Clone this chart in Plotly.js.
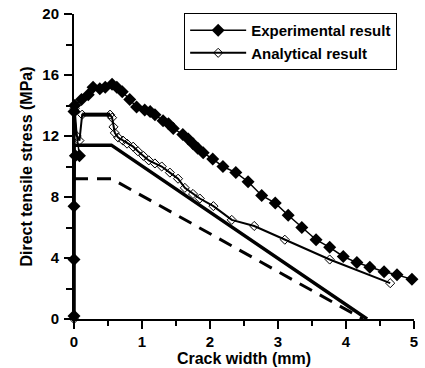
<!DOCTYPE html>
<html><head><meta charset="utf-8">
<script src="https://cdn.plot.ly/plotly-3.0.1.min.js"></script>
<style>body{margin:0;background:#fff}#c{width:425px;height:368px}</style>
</head><body><div id="c"></div>
<script>
const expX = [0, 0, 0, 0.02, 0.08, 0.0, 0.01, 0.11, 0.21, 0.28, 0.38, 0.46, 0.56, 0.63, 0.71, 0.82, 0.92, 1.04, 1.12, 1.19, 1.31, 1.39, 1.46, 1.6, 1.68, 1.75, 1.82, 1.9, 2.04, 2.19, 2.38, 2.56, 2.76, 2.96, 3.15, 3.35, 3.56, 3.76, 3.96, 4.16, 4.35, 4.56, 4.75, 4.97];
const expY = [0.2, 3.9, 7.4, 10.7, 10.7, 13.6, 14.0, 14.4, 14.7, 15.2, 15.1, 15.2, 15.4, 15.2, 14.9, 14.4, 13.9, 13.7, 13.6, 13.4, 13.0, 12.8, 12.5, 12.1, 11.8, 11.5, 11.2, 10.9, 10.5, 10.0, 9.6, 9.0, 8.1, 7.6, 6.8, 6.0, 5.2, 4.7, 4.1, 3.7, 3.4, 3.1, 2.9, 2.6];
const anaX = [0, 0.01, 0.04, 0.08, 0.12, 0.53, 0.56, 0.58, 0.6, 0.65, 0.72, 0.78, 0.87, 0.94, 1.02, 1.1, 1.19, 1.29, 1.41, 1.53, 1.63, 1.75, 1.85, 2.05, 2.32, 2.65, 3.1, 3.76, 4.65];
const anaY = [0, 13.8, 12.0, 11.7, 13.4, 13.4, 13.2, 12.6, 12.2, 11.9, 11.7, 11.5, 11.3, 11.0, 10.7, 10.4, 10.2, 10.0, 9.6, 9.2, 8.6, 8.2, 7.9, 7.4, 6.5, 6.1, 5.2, 3.9, 2.35];
const plateauX = [0.12, 0.53];
const plateauY = [13.4, 13.4];
const model1X = [0, 0, 0.55, 4.31];
const model1Y = [0, 11.4, 11.4, 0];
const model2X = [0, 0.55, 4.25];
const model2Y = [9.2, 9.2, 0];

const data = [
  {x: model2X, y: model2Y, mode: 'lines', line: {color: '#000', width: 3, dash: '14px,9px'}, showlegend: false, hoverinfo: 'skip'},
  {x: model1X, y: model1Y, mode: 'lines', line: {color: '#000', width: 3.5}, showlegend: false, hoverinfo: 'skip'},
  {x: plateauX, y: plateauY, mode: 'lines', line: {color: '#000', width: 4}, showlegend: false, hoverinfo: 'skip'},
  {x: expX, y: expY, name: 'Experimental result', mode: 'lines+markers', cliponaxis: false,
   line: {color: '#000', width: 1.5}, marker: {symbol: 'diamond', size: 10, color: '#000'}},
  {x: anaX, y: anaY, name: 'Analytical result', mode: 'lines+markers', cliponaxis: false,
   line: {color: '#000', width: 2}, marker: {symbol: 'diamond-open', size: 7, color: '#000', line: {width: 1}}}
];
const fam = 'Arial, Liberation Sans, sans-serif';
const fnt = {family: fam, size: 15, color: '#000', weight: 700};
const ttl = {family: fam, size: 16, color: '#000', weight: 700};
const layout = {
  width: 425, height: 368,
  margin: {l: 74, r: 11, t: 14, b: 49},
  paper_bgcolor: '#fff', plot_bgcolor: '#fff',
  font: fnt,
  xaxis: {range: [0, 5], tickvals: [0,1,2,3,4,5], ticks: 'outside', ticklen: 8, tickwidth: 2, tickcolor: '#000',
    minor: {tickvals: [0.5,1.5,2.5,3.5,4.5], ticks: 'outside', ticklen: 5, tickwidth: 2, tickcolor: '#000'},
    showline: true, linewidth: 2, linecolor: '#000', showgrid: false, zeroline: false,
    tickfont: fnt, title: {text: 'Crack width (mm)', font: ttl, standoff: 0}},
  yaxis: {range: [0, 20], tickvals: [0,4,8,12,16,20], ticks: 'outside', ticklen: 8, tickwidth: 2, tickcolor: '#000',
    ticklabelstandoff: 2,
    minor: {tickvals: [2,6,10,14,18], ticks: 'outside', ticklen: 6, tickwidth: 2, tickcolor: '#000'},
    showline: true, linewidth: 2, linecolor: '#000', showgrid: false, zeroline: false,
    tickfont: fnt, title: {text: 'Direct tensile stress (MPa)', font: ttl, standoff: 6}},
  legend: {x: 0.324, y: 1.003, xanchor: 'left', yanchor: 'top', bordercolor: '#000', borderwidth: 1,
    bgcolor: '#fff', font: {family: fam, size: 15, color: '#000', weight: 700},
    itemwidth: 56, tracegroupgap: 0}
};
Plotly.newPlot('c', data, layout, {displayModeBar: false, staticPlot: true});
</script></body></html>
